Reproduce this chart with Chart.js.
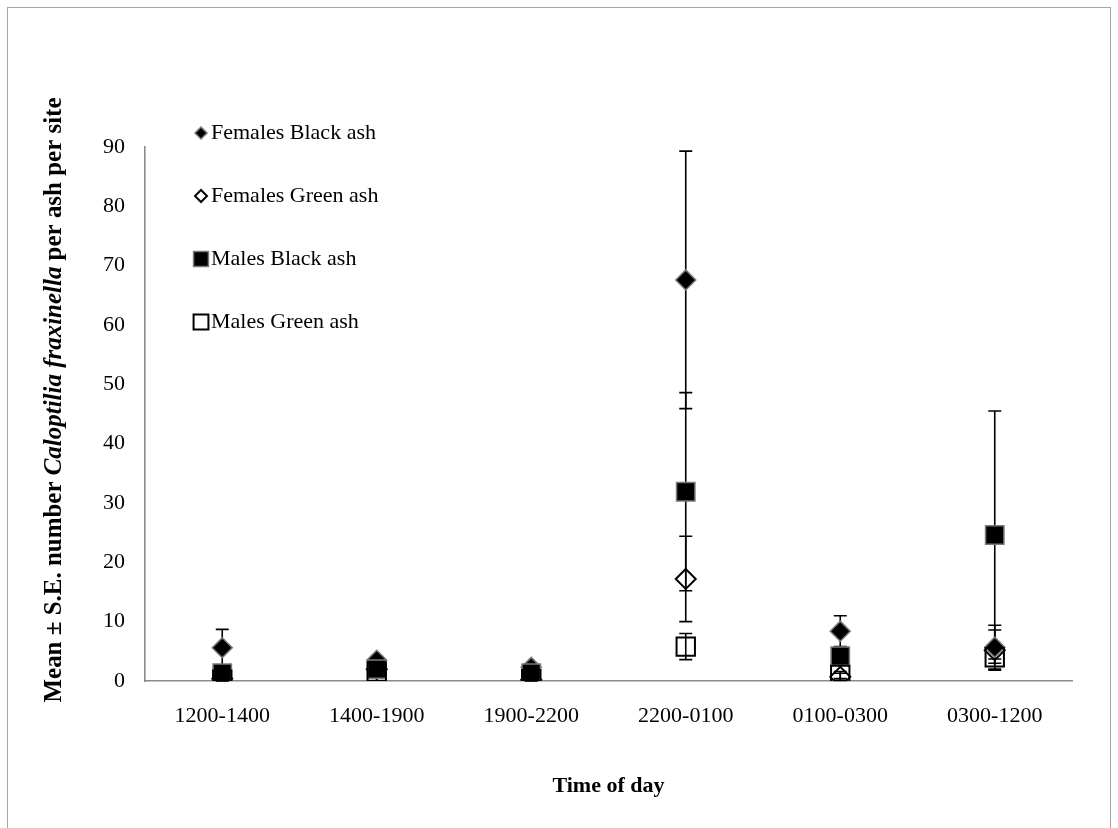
<!DOCTYPE html>
<html>
<head>
<meta charset="utf-8">
<script src="https://cdn.jsdelivr.net/npm/chart.js@4.4.0/dist/chart.umd.min.js"></script>
<style>
  body { margin: 0; background: #fff; }
  #wrap { width: 1118px; height: 828px; }
</style>
</head>
<body>
<div id="wrap"><canvas id="moths" width="1118" height="828"></canvas></div>
<script>
// time windows of the trap checks
const timeWindows = ['1200-1400', '1400-1900', '1900-2200', '2200-0100', '0100-0300', '0300-1200'];

// mean catch per ash per site, with standard errors
const femalesBlack = [5.6, 3.5, 2.3, 67.6, 8.4, 5.7];
const femalesBlackSE = [3.1, 0.6, 0.5, 21.7, 2.6, 3.7];
const femalesGreen = [0.4, 2.0, 0.2, 17.2, 0.7, 5.2];
const femalesGreenSE = [0.3, 0.5, 0.2, 7.2, 0.6, 3.4];
const malesBlack = [1.3, 2.0, 1.3, 31.9, 4.2, 24.6];
const malesBlackSE = [0.6, 0.6, 0.5, 16.7, 1.0, 20.9];
const malesGreen = [0.2, 1.6, 0.3, 5.8, 1.0, 4.0];
const malesGreenSE = [0.2, 0.4, 0.2, 2.2, 0.6, 1.0];

const yTicks = [0, 10, 20, 30, 40, 50, 60, 70, 80, 90];

const SERIF = "'Liberation Serif', 'Times New Roman', serif";
const AXIS_GREY = '#8a8a8a';

function series(label, data, se, shape, filled, order) {
  return {
    label: label,
    data: data,
    se: se,
    order: order,
    showLine: false,
    pointStyle: shape,
    pointRadius: shape === 'rect' ? 13 : 10,
    pointBackgroundColor: filled ? '#000' : 'rgba(0,0,0,0)',
    pointBorderColor: filled ? '#7a7a7a' : '#000',
    pointBorderWidth: filled ? 1.5 : 2,
    legendRadius: shape === 'rect' ? 10.5 : 6
  };
}

// vertical error bars, drawn under the markers
const errorBars = {
  id: 'errorBars',
  beforeDatasetsDraw(chart) {
    const ctx = chart.ctx;
    const xs = chart.scales.x, ys = chart.scales.y;
    ctx.save();
    ctx.strokeStyle = '#000';
    ctx.lineWidth = 1.6;
    chart.data.datasets.forEach(ds => {
      ds.data.forEach((v, j) => {
        const x = xs.getPixelForValue(j);
        const top = ys.getPixelForValue(v + ds.se[j]);
        const bot = ys.getPixelForValue(Math.max(v - ds.se[j], 0));
        ctx.beginPath();
        ctx.moveTo(x, top); ctx.lineTo(x, bot);
        ctx.moveTo(x - 6.5, top); ctx.lineTo(x + 6.5, top);
        ctx.moveTo(x - 6.5, bot); ctx.lineTo(x + 6.5, bot);
        ctx.stroke();
      });
    });
    ctx.restore();
  }
};

// legend inside the plot, outer frame and the rotated y title
const decorations = {
  id: 'decorations',
  afterDraw(chart) {
    const ctx = chart.ctx;
    ctx.save();

    ctx.strokeStyle = '#a6a6a6';
    ctx.lineWidth = 1;
    ctx.strokeRect(7.5, 7.5, 1103, 830);

    const rowY = [133, 196, 259, 322];
    ctx.font = '22px ' + SERIF;
    ctx.textBaseline = 'middle';
    chart.data.datasets.forEach((ds, i) => {
      const y = rowY[i];
      ctx.fillStyle = ds.pointBackgroundColor;
      ctx.strokeStyle = ds.pointBorderColor;
      ctx.lineWidth = ds.pointBorderWidth;
      Chart.helpers.drawPoint(ctx, {
        pointStyle: ds.pointStyle,
        radius: ds.legendRadius,
        borderWidth: ds.pointBorderWidth
      }, 201, y);
      ctx.fillStyle = '#000';
      ctx.fillText(ds.label, 211, y);
    });

    const parts = [
      ['bold', 'Mean ± S.E. number '],
      ['italic bold', 'Caloptilia fraxinella'],
      ['bold', ' per ash per site']
    ];
    const size = 25;
    let total = 0;
    parts.forEach(p => { ctx.font = p[0] + ' ' + size + 'px ' + SERIF; total += ctx.measureText(p[1]).width; });
    const length = 605;
    ctx.translate(55, 400);
    ctx.rotate(-Math.PI / 2);
    ctx.scale(length / total, 1);
    ctx.textBaseline = 'middle';
    ctx.textAlign = 'left';
    ctx.fillStyle = '#000';
    let x = -total / 2;
    parts.forEach(p => {
      ctx.font = p[0] + ' ' + size + 'px ' + SERIF;
      ctx.fillText(p[1], x, 0);
      x += ctx.measureText(p[1]).width;
    });
    ctx.restore();
  }
};

new Chart(document.getElementById('moths'), {
  type: 'line',
  data: {
    labels: timeWindows,
    datasets: [
      series('Females Black ash', femalesBlack, femalesBlackSE, 'rectRot', true, 4),
      series('Females Green ash', femalesGreen, femalesGreenSE, 'rectRot', false, 3),
      series('Males Black ash', malesBlack, malesBlackSE, 'rect', true, 2),
      series('Males Green ash', malesGreen, malesGreenSE, 'rect', false, 1)
    ]
  },
  options: {
    responsive: false,
    animation: false,
    devicePixelRatio: 1,
    layout: { padding: { top: 147, right: 46, left: 0, bottom: 0 } },
    plugins: {
      legend: { display: false },
      tooltip: { enabled: false }
    },
    scales: {
      x: {
        type: 'category',
        offset: true,
        grid: { display: false, drawTicks: false },
        border: { display: true, color: AXIS_GREY, width: 1.6 },
        ticks: { color: '#000', font: { family: SERIF, size: 22 }, padding: 22, maxRotation: 0 },
        title: {
          display: true,
          text: 'Time of day',
          color: '#000',
          font: { family: SERIF, size: 22, weight: 'bold' },
          padding: { top: 0, bottom: 28 }
        },
        afterFit(scale) { scale.height = 147; }
      },
      y: {
        min: 0,
        max: 90,
        grid: { display: false, drawTicks: false },
        border: { display: true, color: AXIS_GREY, width: 1.6 },
        afterBuildTicks(scale) { scale.ticks = yTicks.map(v => ({ value: v })); },
        ticks: { color: '#000', font: { family: SERIF, size: 22 }, padding: 20 },
        afterFit(scale) { scale.width = 145; }
      }
    }
  },
  plugins: [errorBars, decorations]
});
</script>
</body>
</html>
